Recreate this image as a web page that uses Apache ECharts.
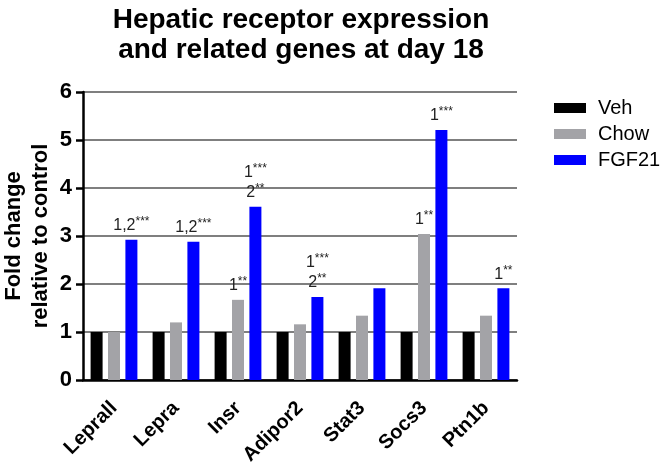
<!DOCTYPE html>
<html>
<head>
<meta charset="utf-8">
<script src="https://cdn.jsdelivr.net/npm/echarts@6/dist/echarts.min.js"></script>
<style>
  html, body { margin: 0; padding: 0; background: #fff; }
  #chart { width: 661px; height: 467px; }
</style>
</head>
<body>
<div id="chart"></div>
<script>
var genes = ["Leprall", "Lepra", "Insr", "Adipor2", "Stat3", "Socs3", "Ptn1b"];
var vehValues = [1, 1, 1, 1, 1, 1, 1];
var chowValues = [1.0, 1.2, 1.67, 1.16, 1.34, 3.04, 1.34];
var fgf21Values = [2.92, 2.88, 3.61, 1.73, 1.91, 5.21, 1.91];
// significance marks shown above the bars
var chowMarks = ["", "", "1**", "", "", "1**", ""];
var fgf21Marks = ["1,2***", "1,2***", "1***\n2**", "1***\n2**", "", "1***", "1**"];
var yTicks = [0, 1, 2, 3, 4, 5, 6];

var font = "Liberation Sans, Arial, sans-serif";
var myChart = echarts.init(document.getElementById("chart"));

function markText(mark) {
  // split "1,2***" into number part and star part for each line
  return mark
    .split("\n")
    .map(function (line) {
      var m = line.match(/^([^*]*)(\**)$/);
      return "{n|" + m[1] + "}{s|" + m[2] + "}";
    })
    .join("\n");
}

function markLabel(marks) {
  return {
    show: true,
    position: "top",
    distance: 4,
    formatter: function (p) {
      var mark = marks[p.dataIndex];
      return mark ? markText(mark) : "";
    },
    lineHeight: 20,
    rich: {
      n: { fontFamily: font, fontSize: 16, color: "#222", lineHeight: 20 },
      s: { fontFamily: font, fontSize: 12, color: "#222", lineHeight: 20, verticalAlign: "top" },
    },
  };
}

var option = {
  animation: false,
  title: {
    text: "Hepatic receptor expression\nand related genes at day 18",
    left: 296,
    top: 0,
    textAlign: "center",
    textStyle: {
      fontFamily: font,
      fontSize: 28,
      fontWeight: "bold",
      color: "#000",
      lineHeight: 30,
    },
  },
  legend: {
    orient: "vertical",
    left: 549,
    top: 93,
    itemWidth: 32,
    itemHeight: 10,
    itemGap: 6,
    icon: "rect",
    textStyle: { fontFamily: font, fontSize: 20, color: "#000", padding: [0, 0, 0, 7] },
    data: ["Veh", "Chow", "FGF21"],
  },
  grid: { left: 83, right: 144, top: 92, bottom: 87, outerBoundsMode: "none" },
  xAxis: {
    type: "category",
    data: genes,
    axisLine: { lineStyle: { color: "#000", width: 2.5 } },
    axisTick: { alignWithLabel: true, length: 7, lineStyle: { color: "#000", width: 2.5 } },
    axisLabel: {
      rotate: 45,
      margin: 25,
      fontFamily: font,
      fontSize: 20,
      fontWeight: "bold",
      color: "#000",
    },
  },
  yAxis: {
    type: "value",
    min: 0,
    max: 6,
    interval: 1,
    name: "Fold change\nrelative to control",
    nameLocation: "middle",
    nameGap: 29,
    nameMoveOverlap: false,
    nameTextStyle: {
      fontFamily: font,
      fontSize: 22,
      fontWeight: "bold",
      color: "#000",
      lineHeight: 27,
    },
    axisLine: { show: true, lineStyle: { color: "#000", width: 2.5 } },
    axisTick: { show: true, length: 7, lineStyle: { color: "#000", width: 2.5 } },
    axisLabel: {
      margin: 11,
      fontFamily: font,
      fontSize: 22,
      fontWeight: "bold",
      color: "#000",
      formatter: function (v) {
        return yTicks.indexOf(v) >= 0 ? String(v) : "";
      },
    },
    splitLine: { lineStyle: { color: "#555", width: 1.5 } },
  },
  series: [
    {
      name: "Veh",
      type: "bar",
      data: vehValues,
      barWidth: 12,
      barGap: "45%",
      itemStyle: { color: "#000" },
    },
    {
      name: "Chow",
      type: "bar",
      data: chowValues,
      barWidth: 12,
      barGap: "45%",
      itemStyle: { color: "#a3a3a7" },
      label: markLabel(chowMarks),
    },
    {
      name: "FGF21",
      type: "bar",
      data: fgf21Values,
      barWidth: 12,
      barGap: "45%",
      itemStyle: { color: "#0000ff" },
      label: markLabel(fgf21Marks),
    },
  ],
};

myChart.setOption(option);
window.addEventListener("resize", function () {
  myChart.resize();
});
</script>
</body>
</html>
